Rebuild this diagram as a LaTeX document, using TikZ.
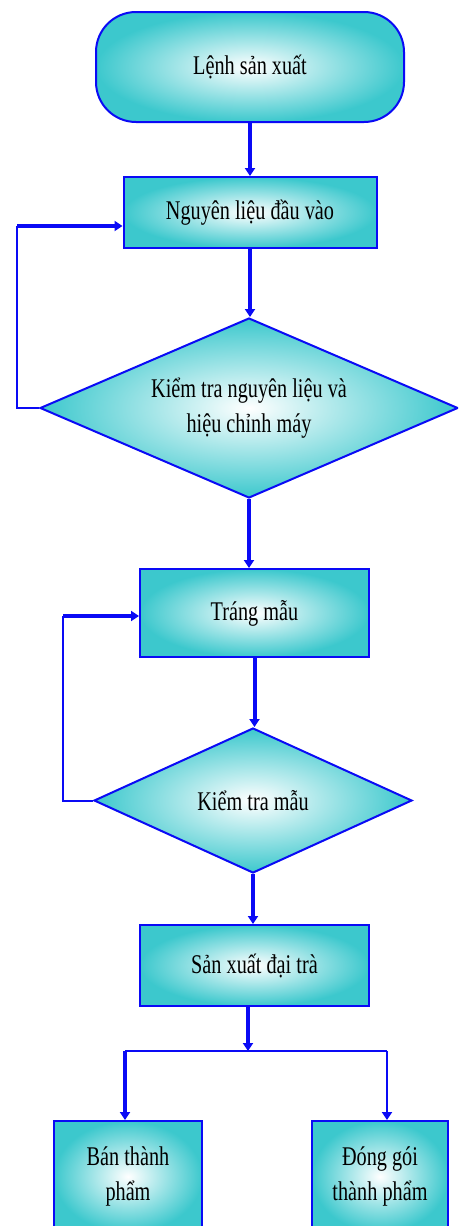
\documentclass[tikz,border=0pt]{standalone}
\usepackage{fontspec}
\newfontfamily\flowfont[FakeStretch=0.75]{Liberation Serif}
\usetikzlibrary{shapes.geometric, arrows.meta}
\definecolor{flowBlue}{RGB}{10,10,245}
\definecolor{flowTeal}{RGB}{60,200,205}
\tikzset{
  every picture/.style={font={\flowfont\fontsize{27}{35}\selectfont},
    >={Triangle[length=8pt,width=10pt]}}}

\begin{document}
\begin{tikzpicture}[x=1pt, y=-1pt,
    box/.style={
      draw=flowBlue, line width=2pt,
      inner color=white, outer color=flowTeal,
      align=center, inner sep=0pt},
    startStop/.style={box, rectangle, rounded corners=40pt},
    process/.style={box, rectangle},
    decision/.style={box, diamond, shape aspect=2.3},
    flow/.style={->, flowBlue, line width=4pt},
    thinFlow/.style={->, flowBlue, line width=2pt},
    thinLine/.style={flowBlue, line width=2pt}]

    \useasboundingbox (0, 0) rectangle (458, 1226);
    \clip (0, 0) rectangle (458, 1226);

    \node[startStop, minimum width=308pt, minimum height=110pt]
      (start) at (250, 67) {Lệnh sản xuất};
    \node[process, minimum width=253pt, minimum height=71pt]
      (input) at (250, 212.5) {Nguyên liệu đầu vào};
    \node[decision, minimum width=418pt, minimum height=180pt]
      (checkInput) at (249, 408) {Kiểm tra nguyên liệu và\\hiệu chỉnh máy};
    \node[process, minimum width=229pt, minimum height=88pt]
      (coat) at (254.5, 613) {Tráng mẫu};
    \node[decision, minimum width=318pt, minimum height=145pt]
      (checkCoat) at (253, 800.5) {Kiểm tra mẫu};
    \node[process, minimum width=229pt, minimum height=81pt]
      (mass) at (254.5, 965.5) {Sản xuất đại trà};
    \node[process, minimum width=148pt, minimum height=111pt]
      (semi) at (128, 1176.5) {Bán thành\\phẩm};
    \node[process, minimum width=136pt, minimum height=111pt]
      (pack) at (380, 1176.5) {Đóng gói\\thành phẩm};

    \coordinate (loopInput) at (17, 226);
    \coordinate (loopCoat) at (63, 616);
    \coordinate (split) at (248, 1051);
    \coordinate (splitL) at (125, 1051);
    \coordinate (splitR) at (387, 1051);

    \draw[flow] (start.south) -- (start.south |- input.north);
    \draw[flow] (input.south) -- (input.south |- checkInput.north);
    \draw[flow] (checkInput.south) -- (checkInput.south |- coat.north);
    \draw[flow] (coat.south) -- (coat.south |- checkCoat.north);
    \draw[flow] (checkCoat.south) -- (checkCoat.south |- mass.north);

    % loops back
    \draw[thinLine] (checkInput.west) -| (loopInput);
    \draw[flow] (loopInput) -- (loopInput -| input.west);
    \draw[thinLine] (checkCoat.west) -| (loopCoat);
    \draw[flow] (loopCoat) -- (loopCoat -| coat.west);

    % split to the two outputs
    \draw[flow] (mass.south -| split) -- (split);
    \draw[thinLine] (splitL) -- (splitR);
    \draw[flow] (splitL) -- (splitL |- semi.north);
    \draw[thinFlow] (splitR) -- (splitR |- pack.north);
  \end{tikzpicture}
\end{document}
